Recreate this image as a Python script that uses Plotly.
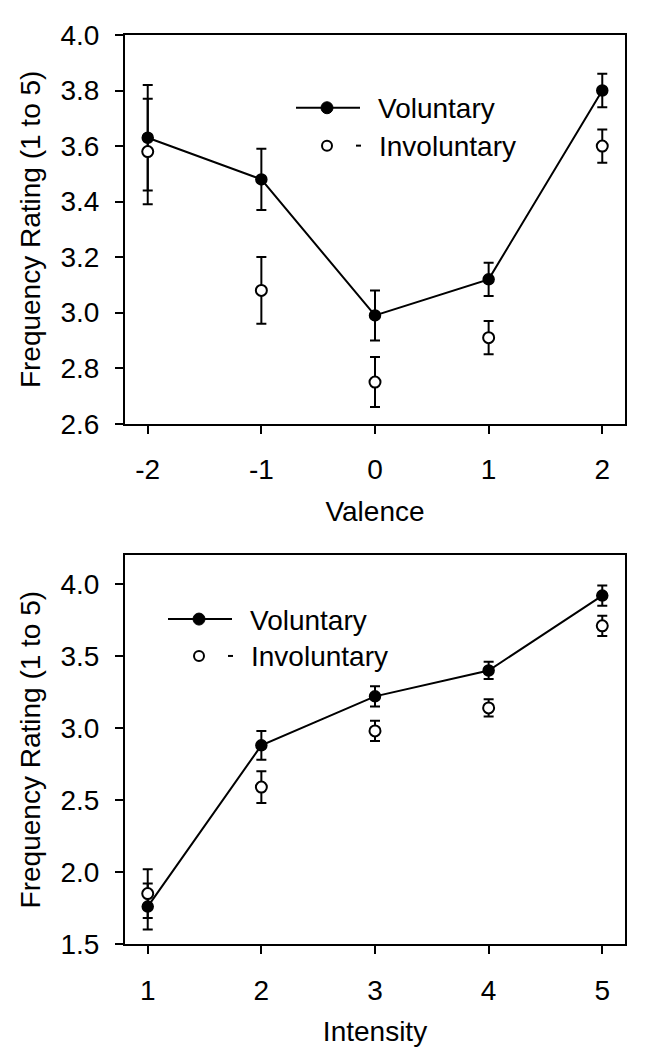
import plotly.graph_objects as go

# ---- data ----
valence = [-2, -1, 0, 1, 2]
val_vol = [3.63, 3.48, 2.99, 3.12, 3.80]
val_vol_err = [0.19, 0.11, 0.09, 0.06, 0.06]
val_inv = [3.58, 3.08, 2.75, 2.91, 3.60]
val_inv_err = [0.19, 0.12, 0.09, 0.06, 0.06]

intensity = [1, 2, 3, 4, 5]
int_vol = [1.76, 2.88, 3.22, 3.40, 3.92]
int_vol_err = [0.16, 0.10, 0.07, 0.06, 0.07]
int_inv = [1.85, 2.59, 2.98, 3.14, 3.71]
int_inv_err = [0.17, 0.11, 0.07, 0.06, 0.07]

series_names = ["Voluntary", "Involuntary"]

# ---- layout constants ----
W, H = 656, 1048
ML, MR, MT, MB = 117, 39, 24, 112
PW = W - ML - MR
PH = H - MT - MB
FONT = "Liberation Sans, Arial, sans-serif"
FS = 28


def px_to_paper(px, py):
    return (px - ML) / PW, (H - MB - py) / PH


fig = go.Figure()


def add_panel(x, vol, vol_err, inv, inv_err, xa, ya):
    fig.add_trace(go.Scatter(
        x=x, y=vol, mode="lines+markers", name=series_names[0],
        xaxis=xa, yaxis=ya, showlegend=False,
        line=dict(color="black", width=2),
        marker=dict(symbol="circle", size=11, color="black",
                    line=dict(color="black", width=1.5)),
        error_y=dict(type="data", array=vol_err, visible=True,
                     color="black", thickness=2, width=5),
    ))
    fig.add_trace(go.Scatter(
        x=x, y=inv, mode="markers", name=series_names[1],
        xaxis=xa, yaxis=ya, showlegend=False,
        marker=dict(symbol="circle", size=11, color="white",
                    line=dict(color="black", width=2)),
        error_y=dict(type="data", array=inv_err, visible=True,
                     color="black", thickness=2, width=5),
    ))


add_panel(valence, val_vol, val_vol_err, val_inv, val_inv_err, "x", "y")
add_panel(intensity, int_vol, int_vol_err, int_inv, int_inv_err, "x2", "y2")

shapes = []
annotations = []


def add_legend(line_x0, row1_y, row2_y):
    # row 1: line with filled dot
    line_x1 = line_x0 + 64
    dot_x = line_x0 + 31
    text_x = line_x0 + 80
    a0, b0 = px_to_paper(line_x0, row1_y)
    a1, _ = px_to_paper(line_x1, row1_y)
    shapes.append(dict(type="line", xref="paper", yref="paper",
                       x0=a0, x1=a1, y0=b0, y1=b0,
                       line=dict(color="black", width=2)))
    dx, dy = px_to_paper(dot_x, row1_y)
    shapes.append(dict(type="circle", xref="paper", yref="paper",
                       xsizemode="pixel", ysizemode="pixel",
                       xanchor=dx, yanchor=dy, x0=-6, x1=6, y0=-6, y1=6,
                       fillcolor="black", line=dict(color="black", width=1)))
    tx, ty = px_to_paper(text_x, row1_y + 1)
    annotations.append(dict(xref="paper", yref="paper", x=tx, y=ty,
                            text=series_names[0], showarrow=False,
                            xanchor="left", yanchor="middle",
                            font=dict(family=FONT, size=FS, color="black")))
    # row 2: open circle, short dash
    dx, dy = px_to_paper(dot_x, row2_y)
    shapes.append(dict(type="circle", xref="paper", yref="paper",
                       xsizemode="pixel", ysizemode="pixel",
                       xanchor=dx, yanchor=dy, x0=-5, x1=5, y0=-5, y1=5,
                       fillcolor="white", line=dict(color="black", width=2)))
    d0, dy2 = px_to_paper(line_x0 + 60, row2_y)
    d1, _ = px_to_paper(line_x0 + 65, row2_y)
    shapes.append(dict(type="line", xref="paper", yref="paper",
                       x0=d0, x1=d1, y0=dy2, y1=dy2,
                       line=dict(color="black", width=2)))
    tx, ty = px_to_paper(text_x + 1, row2_y + 1)
    annotations.append(dict(xref="paper", yref="paper", x=tx, y=ty,
                            text=series_names[1], showarrow=False,
                            xanchor="left", yanchor="middle",
                            font=dict(family=FONT, size=FS, color="black")))


add_legend(288, 97, 135)
add_legend(160, 610, 647)

axis_common = dict(
    showline=True, linewidth=2, linecolor="black", mirror=True,
    ticks="outside", ticklen=8, tickwidth=2, tickcolor="black",
    showgrid=False, zeroline=False,
    tickfont=dict(family=FONT, size=FS, color="black"),
    title_font=dict(family=FONT, size=FS, color="black"),
)
x_extra = dict(ticklabelstandoff=12)
y_extra = dict(ticklabelstandoff=10)

top_lo = (H - MB - 414) / PH
bot_hi = (H - MB - 546) / PH

fig.update_layout(
    width=W, height=H,
    margin=dict(l=ML, r=MR, t=MT, b=MB),
    plot_bgcolor="white", paper_bgcolor="white",
    font=dict(family=FONT, size=FS, color="black"),
    showlegend=False,
    xaxis=dict(domain=[0, 1], anchor="y", range=[-2.2, 2.2],
               tickvals=valence, ticktext=[str(v) for v in valence],
               title=dict(text="Valence", standoff=17),
               **axis_common, **x_extra),
    yaxis=dict(domain=[top_lo, 1], anchor="x", range=[2.6, 4.0],
               dtick=0.2, tick0=2.6, tickformat=".1f",
               title=dict(text="Frequency Rating (1 to 5)", standoff=12),
               **axis_common, **y_extra),
    xaxis2=dict(domain=[0, 1], anchor="y2", range=[0.8, 5.2],
                tickvals=intensity, ticktext=[str(v) for v in intensity],
                title=dict(text="Intensity", standoff=17),
                **axis_common, **x_extra),
    yaxis2=dict(domain=[0, bot_hi], anchor="x2", range=[1.5, 4.2],
                dtick=0.5, tick0=1.5, tickformat=".1f",
                title=dict(text="Frequency Rating (1 to 5)", standoff=12),
                **axis_common, **y_extra),
    shapes=shapes,
    annotations=annotations,
)

fig.write_html("out.html")
